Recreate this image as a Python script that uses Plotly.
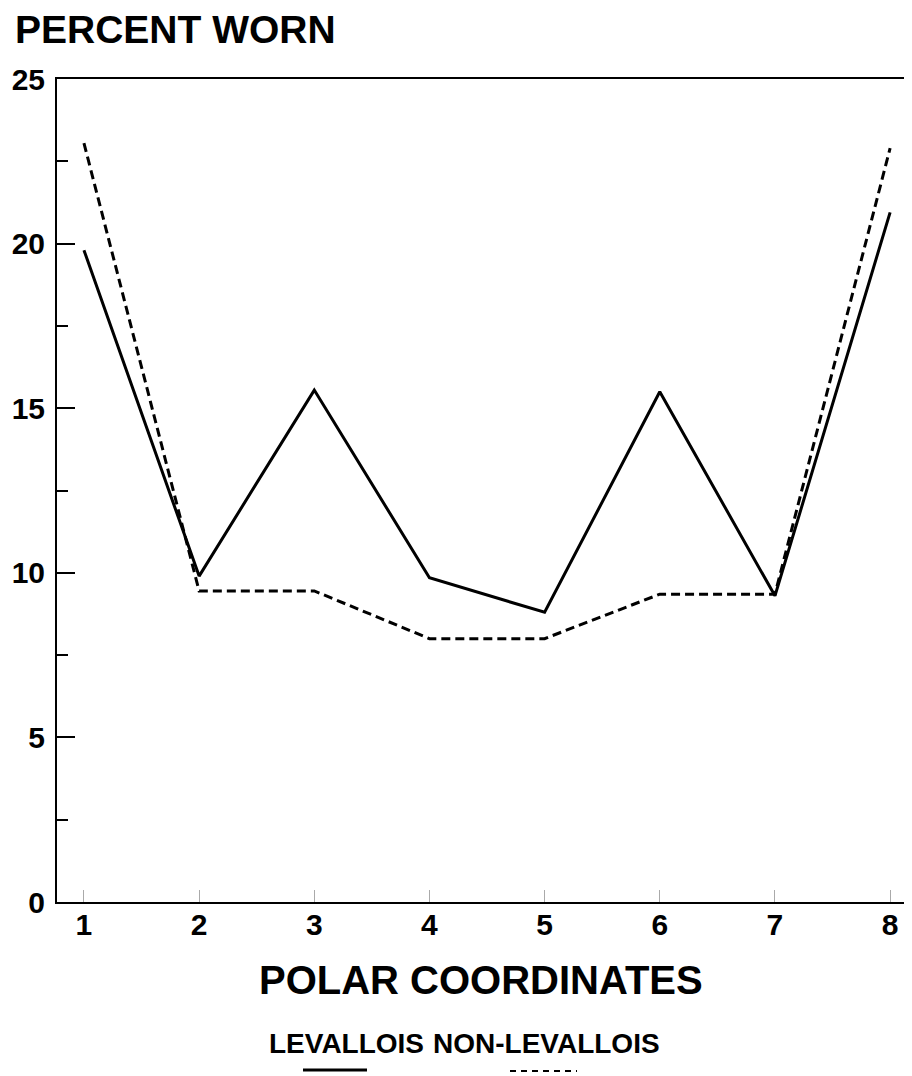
import plotly.graph_objects as go

# Data
coords = [1, 2, 3, 4, 5, 6, 7, 8]
levallois = [19.8, 9.9, 15.55, 9.85, 8.8, 15.5, 9.3, 20.95]
non_levallois = [23.05, 9.45, 9.45, 8.0, 8.0, 9.35, 9.35, 22.9]
y_ticks = [0, 5, 10, 15, 20, 25]

FONT = "Liberation Sans, Arial, Helvetica, sans-serif"

# page body adds an 8px margin, so the figure is 8px smaller
W, H = 904, 1068

fig = go.Figure()

fig.add_trace(go.Scatter(
    x=coords, y=levallois, mode="lines", name="LEVALLOIS",
    line=dict(color="black", width=3)
))
fig.add_trace(go.Scatter(
    x=coords, y=non_levallois, mode="lines", name="NON-LEVALLOIS",
    line=dict(color="black", width=3, dash="9px,5px")
))

# plot area spans page pixels x 57..912, y 79..902
fig.update_layout(
    width=W, height=H,
    margin=dict(l=49, r=0, t=71, b=174),
    paper_bgcolor="white", plot_bgcolor="white",
    showlegend=False,
    font=dict(family=FONT, color="black"),
    title=dict(
        text="PERCENT WORN",
        font=dict(size=39, weight="bold", family=FONT),
        x=7 / W, xanchor="left", xref="container",
        y=1 - 21 / H, yanchor="middle", yref="container",
    ),
)

fig.update_xaxes(
    range=[0.766, 8.19],
    tickvals=coords,
    ticktext=[str(c) for c in coords],
    ticks="inside", ticklen=12, tickwidth=1, tickcolor="#aaaaaa",
    tickfont=dict(size=30, weight="bold"),
    ticklabelstandoff=-5,
    showline=True, linecolor="black", linewidth=2, mirror=True,
    showgrid=False, zeroline=False, automargin=False,
)
fig.update_yaxes(
    range=[0, 25],
    tickvals=y_ticks,
    ticks="inside", ticklen=18, tickwidth=1.5, tickcolor="black",
    minor=dict(dtick=2.5, ticks="inside", ticklen=11, tickwidth=1.5, tickcolor="black"),
    tickfont=dict(size=30, weight="bold"),
    ticklabelstandoff=4,
    showline=True, linecolor="black", linewidth=2,
    showgrid=False, zeroline=False, automargin=False,
)

def px_x(X):
    return (X - 57) / 855

def px_y(Y):
    return (902 - Y) / 823

fig.add_annotation(
    text="POLAR COORDINATES", x=px_x(481), y=px_y(980),
    xref="paper", yref="paper", showarrow=False,
    xanchor="center", yanchor="middle",
    font=dict(size=40, weight="bold"),
)
fig.add_annotation(
    text="LEVALLOIS", x=px_x(267), y=px_y(1043),
    xref="paper", yref="paper", showarrow=False,
    xanchor="left", yanchor="middle",
    font=dict(size=28, weight="bold"),
)
fig.add_annotation(
    text="NON-LEVALLOIS", x=px_x(662), y=px_y(1043),
    xref="paper", yref="paper", showarrow=False,
    xanchor="right", yanchor="middle",
    font=dict(size=28, weight="bold"),
)

# legend line samples under the labels
fig.add_shape(type="line", xref="paper", yref="paper",
              x0=px_x(303), x1=px_x(367), y0=px_y(1070), y1=px_y(1070),
              line=dict(color="black", width=3))
fig.add_shape(type="line", xref="paper", yref="paper",
              x0=px_x(510), x1=px_x(577), y0=px_y(1071), y1=px_y(1071),
              line=dict(color="black", width=2, dash="6px,5px"))

fig.write_html("out.html")
